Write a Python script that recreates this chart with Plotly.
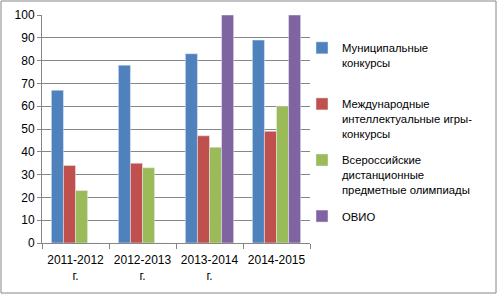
import plotly.graph_objects as go

categories = ["2011-2012<br>г.", "2012-2013<br>г.", "2013-2014<br>г.", "2014-2015"]
series_names = [
    "Муниципальные<br>конкурсы<br> ",
    "Международные<br>интеллектуальные игры-<br>конкурсы",
    "Всероссийские<br>дистанционные<br>предметные олимпиады",
    "ОВИО",
]
municipal = [67, 78, 83, 89]
international = [34, 35, 47, 49]
allrussian = [23, 33, 42, 60]
ovio = [0, 0, 100, 100]
colors = ["#4F81BD", "#C0504D", "#9BBB59", "#8064A2"]
y_ticks = list(range(0, 101, 10))

fig = go.Figure()
for i, (name, vals) in enumerate(zip(series_names, [municipal, international, allrussian, ovio])):
    fig.add_trace(go.Bar(x=categories, y=vals, name=name, marker_color=colors[i],
                         legendgroup=f"g{i}"))

W, H = 498, 295
l, r, t, b = 42, 188, 15, 52
pw, ph = W - l - r, H - t - b
family = "Liberation Sans, Arial, sans-serif"
axis_font = dict(family=family, size=12, color="#000000")
legend_font = dict(family=family, size=11.3, color="#000000")

fig.update_layout(
    width=W, height=H,
    margin=dict(l=l, r=r, t=t, b=b, autoexpand=False),
    paper_bgcolor="white", plot_bgcolor="white",
    barmode="group", bargap=0.28, bargroupgap=0,
    font=axis_font,
    showlegend=True,
    legend=dict(x=(302 - l) / pw, xanchor="left", y=(H - b - 34) / ph, yanchor="top",
                traceorder="grouped", tracegroupgap=9, valign="top",
                font=legend_font, bgcolor="rgba(0,0,0,0)"),
    xaxis=dict(showline=True, linecolor="#868686", ticks="outside", tickson="boundaries",
               ticklen=5, tickcolor="#868686", showgrid=False, tickfont=axis_font,
               ticklabelstandoff=6, automargin=False),
    yaxis=dict(range=[0, 100], tickvals=y_ticks, showline=True, linecolor="#868686",
               ticks="outside", ticklen=4, tickcolor="#868686", showgrid=True,
               gridcolor="#868686", gridwidth=1, tickfont=axis_font, zeroline=False,
               automargin=False),
    shapes=[dict(type="rect", xref="paper", yref="paper",
                 x0=(1 - l) / pw, x1=(496 - l) / pw,
                 y0=(H - b - 293) / ph, y1=(H - b - 1) / ph,
                 line=dict(color="#868686", width=1), fillcolor="rgba(0,0,0,0)", layer="below")],
)

fig.write_html("out.html", config={"displayModeBar": False},
               post_script="document.body.style.margin='0';document.body.style.overflow='hidden';")
